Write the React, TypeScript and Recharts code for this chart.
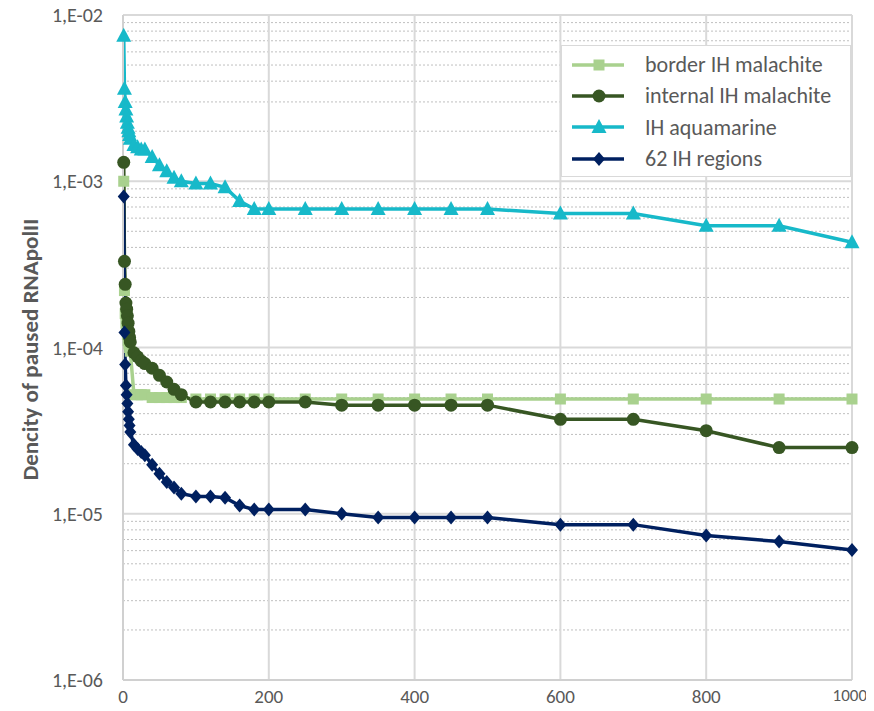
import React from 'react';
import { LineChart, Line, XAxis, YAxis, CartesianGrid } from 'recharts';

const xValues = [1, 2, 3, 4, 5, 6, 7, 8, 9, 10, 15, 20, 25, 30, 40, 50, 60, 70, 80, 100, 120, 140, 160, 180, 200, 250, 300, 350, 400, 450, 500, 600, 700, 800, 900, 1000];

const borderIH = [1.0e-3, 2.2e-4, 1.6e-4, 1.4e-4, 1.3e-4, 1.2e-4, 1.1e-4, 1.05e-4, 1.0e-4, 9.5e-5,
  5.2e-5, 5.2e-5, 5.2e-5, 5.2e-5,
  5.0e-5, 5.0e-5, 5.0e-5, 5.0e-5, 5.0e-5,
  4.9e-5, 4.9e-5, 4.9e-5, 4.9e-5, 4.9e-5, 4.9e-5,
  4.9e-5, 4.9e-5, 4.9e-5, 4.9e-5, 4.9e-5, 4.9e-5,
  4.9e-5, 4.9e-5, 4.9e-5, 4.9e-5, 4.9e-5];

const internalIH = [1.3e-3, 3.3e-4, 2.4e-4, 1.85e-4, 1.7e-4, 1.55e-4, 1.4e-4, 1.25e-4, 1.15e-4, 1.08e-4,
  9.3e-5, 8.8e-5, 8.3e-5, 8.0e-5,
  7.5e-5, 6.8e-5, 6.2e-5, 5.6e-5, 5.2e-5,
  4.7e-5, 4.7e-5, 4.7e-5, 4.7e-5, 4.7e-5, 4.7e-5,
  4.7e-5, 4.5e-5, 4.5e-5, 4.5e-5, 4.5e-5, 4.5e-5,
  3.7e-5, 3.7e-5, 3.16e-5, 2.5e-5, 2.5e-5];

const aquamarine = [7.5e-3, 3.6e-3, 3.0e-3, 2.7e-3, 2.45e-3, 2.25e-3, 2.1e-3, 2.0e-3, 1.9e-3, 1.8e-3,
  1.65e-3, 1.6e-3, 1.55e-3, 1.55e-3,
  1.4e-3, 1.25e-3, 1.15e-3, 1.05e-3, 1.0e-3,
  9.7e-4, 9.7e-4, 9.2e-4, 7.6e-4, 6.8e-4, 6.8e-4,
  6.8e-4, 6.8e-4, 6.8e-4, 6.8e-4, 6.8e-4, 6.8e-4,
  6.4e-4, 6.4e-4, 5.4e-4, 5.4e-4, 4.3e-4];

const regions62 = [8.1e-4, 1.23e-4, 7.9e-5, 5.9e-5, 5.2e-5, 4.6e-5, 4.1e-5, 3.7e-5, 3.4e-5, 3.1e-5,
  2.6e-5, 2.45e-5, 2.35e-5, 2.25e-5,
  1.97e-5, 1.74e-5, 1.55e-5, 1.44e-5, 1.32e-5,
  1.27e-5, 1.27e-5, 1.25e-5, 1.12e-5, 1.06e-5, 1.06e-5,
  1.06e-5, 1.0e-5, 9.5e-6, 9.5e-6, 9.5e-6, 9.5e-6,
  8.6e-6, 8.6e-6, 7.4e-6, 6.8e-6, 6.05e-6];

const xTicks = [0, 200, 400, 600, 800, 1000];
const yTicks = [1e-6, 1e-5, 1e-4, 1e-3, 1e-2];
const yMinor = [2, 3, 4, 5, 6, 7, 8, 9].flatMap((k) => [1e-6, 1e-5, 1e-4, 1e-3].map((d) => k * d));

const seriesNames = ['border IH malachite', 'internal IH malachite', 'IH aquamarine', '62 IH regions'];
const seriesKeys = ['border', 'internal', 'aqua', 'regions'];
const seriesColors = ['#a9d18e', '#375623', '#17b9c9', '#002060'];
const seriesShapes = ['square', 'circle', 'triangle', 'diamond'];

const data = xValues.map((x, i) => ({
  x,
  border: borderIH[i],
  internal: internalIH[i],
  aqua: aquamarine[i],
  regions: regions62[i],
}));

const FONT = 'Carlito, Lato, "Liberation Sans", sans-serif';
const TEXT_COLOR = '#595959';

function markerShape(shape: string, cx: number, cy: number, color: string, key?: any) {
  if (cx == null || cy == null || isNaN(cx) || isNaN(cy)) return <g key={key} />;
  if (shape === 'square') {
    return <rect key={key} x={cx - 5.5} y={cy - 5.5} width={11} height={11} fill={color} />;
  }
  if (shape === 'circle') {
    return <circle key={key} cx={cx} cy={cy} r={6.5} fill={color} />;
  }
  if (shape === 'triangle') {
    return <path key={key} d={`M${cx},${cy - 8} L${cx + 7.5},${cy + 6} L${cx - 7.5},${cy + 6} Z`} fill={color} />;
  }
  return <path key={key} d={`M${cx},${cy - 7} L${cx + 6},${cy} L${cx},${cy + 7} L${cx - 6},${cy} Z`} fill={color} />;
}

function makeDot(shape: string, color: string) {
  return (props: any) => markerShape(shape, props.cx, props.cy, color, `${shape}-${props.index}`);
}

function XTick(props: any) {
  const { x, y, payload } = props;
  const label = String(payload.value);
  const isLong = label.length >= 4;
  return (
    <text
      x={isLong ? x + 15 : x}
      y={y}
      dy="0.78em"
      textAnchor={isLong ? 'end' : 'middle'}
      fill={TEXT_COLOR}
      fontFamily={FONT}
      fontSize={isLong ? 17 : 19}
    >
      {label}
    </text>
  );
}

function LegendBox() {
  return (
    <div
      style={{
        position: 'absolute',
        left: 553,
        top: 45,
        width: 290,
        height: 132,
        background: '#fff',
        border: '1px solid #d9d9d9',
        boxSizing: 'border-box',
        paddingTop: 3,
      }}
    >
      {seriesNames.map((name, i) => (
        <div key={name} style={{ display: 'flex', alignItems: 'center', height: 31.3 }}>
          <svg width={80} height={20} style={{ flex: 'none' }}>
            <line x1={10} y1={10} x2={62} y2={10} stroke={seriesColors[i]} strokeWidth={3.5} />
            {markerShape(seriesShapes[i], 37, 10, seriesColors[i])}
          </svg>
          <span style={{ fontFamily: FONT, fontSize: 22, color: TEXT_COLOR, marginLeft: 3, whiteSpace: 'nowrap' }}>{name}</span>
        </div>
      ))}
    </div>
  );
}

const fmtY = (v: number) => {
  const e = Math.round(Math.log10(v));
  const abs = Math.abs(e);
  return `1,E${e < 0 ? '-' : '+'}${abs < 10 ? '0' + abs : abs}`;
};

export default function App() {
  return (
    <div style={{ width: 866, height: 711, position: 'relative', marginTop: -8 }}>
      <LineChart width={866} height={711} data={data} margin={{ top: 15, right: 22, left: 0, bottom: 0 }}>
        <CartesianGrid
          vertical={false}
          horizontalValues={yMinor}
          stroke="#bfbfbf"
          strokeDasharray="2 2"
          strokeWidth={1}
        />
        <CartesianGrid
          horizontalValues={yTicks}
          verticalValues={xTicks}
          stroke="#d9d9d9"
          strokeWidth={2}
        />
        <XAxis
          dataKey="x"
          type="number"
          domain={[0, 1000]}
          ticks={xTicks}
          height={31}
          axisLine={{ stroke: '#d0d0d0', strokeWidth: 2 }}
          tickLine={false}
          tick={XTick}
          tickMargin={2}
          interval={0}
        />
        <YAxis
          type="number"
          scale="log"
          domain={[1e-6, 1e-2]}
          allowDataOverflow
          ticks={yTicks}
          width={115}
          axisLine={{ stroke: '#d0d0d0', strokeWidth: 2 }}
          tickLine={false}
          tickFormatter={fmtY}
          tick={{ fill: TEXT_COLOR, fontSize: 20, fontFamily: FONT }}
          tickMargin={14}
          interval={0}
          label={(props: any) => {
            const vb = props.viewBox || { x: 0, y: 15, width: 115, height: 665 };
            const cx = 30;
            const cy = vb.y + vb.height / 2 + 2;
            return (
              <text
                x={cx}
                y={cy}
                transform={`rotate(-90, ${cx}, ${cy})`}
                textAnchor="middle"
                fill={TEXT_COLOR}
                fontFamily={FONT}
                fontSize={23}
                fontWeight="bold"
              >
                Dencity of paused RNApolII
              </text>
            );
          }}
        />
        {seriesKeys.map((k, i) => (
          <Line
            key={k}
            dataKey={k}
            name={seriesNames[i]}
            stroke={seriesColors[i]}
            strokeWidth={3.5}
            dot={makeDot(seriesShapes[i], seriesColors[i])}
            activeDot={false}
            isAnimationActive={false}
            type="linear"
          />
        ))}
      </LineChart>
      <LegendBox />
    </div>
  );
}
